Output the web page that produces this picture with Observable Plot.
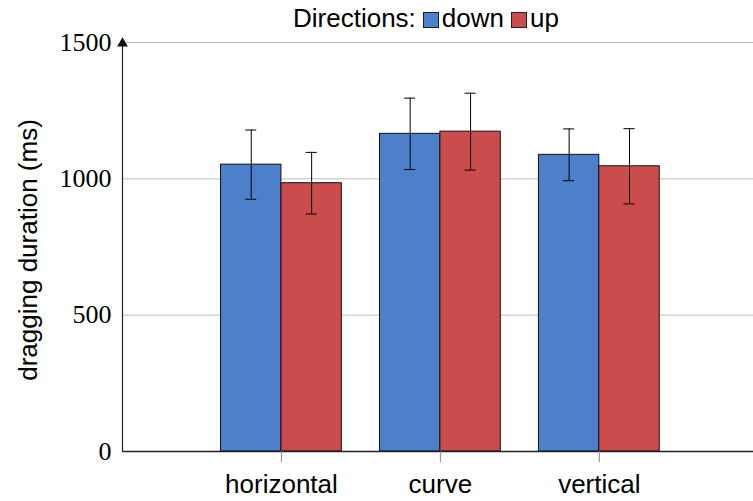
<!DOCTYPE html>
<html>
<head>
<meta charset="utf-8">
<script src="https://cdn.jsdelivr.net/npm/d3@7"></script>
<script src="https://cdn.jsdelivr.net/npm/@observablehq/plot@0.6"></script>
<style>
  body { margin: 0; background: white; }
  #wrap { position: relative; width: 753px; height: 501px; }
  #legend { height: 36px; position: relative; font-family: "Liberation Sans", Arial, sans-serif; font-size: 26px; color: #000; }
  #legend .inner { position: absolute; left: 293px; top: 3px; display: flex; align-items: center; white-space: nowrap; line-height: 30px; }
  #legend .sw { display: inline-block; width: 14px; height: 14px; border: 1px solid #222; margin: 4px 3px 0 7px; }
  svg { display: block; }
  g[aria-label="y-axis tick label"], g[aria-label="y-axis tick label"] text { font-family: "Liberation Serif", "DejaVu Serif", serif; }
</style>
</head>
<body>
<div id="wrap">
  <div id="legend"></div>
  <div id="chart"></div>
</div>
<script>
const categories = ["horizontal", "curve", "vertical"];
const directions = ["down", "up"];
const downMeans = [1052, 1165, 1088];
const upMeans = [984, 1173, 1046];
const downErr = [127, 131, 95];
const upErr = [113, 141, 138];
const yTicks = [0, 500, 1000, 1500];
const legendTitle = "Directions:";
const yLabel = "dragging duration (ms)";
const colors = ["#4d7fcb", "#cb4c4c"];

const barW = 0.38;
const capHalf = 0.035;
const rows = [];
categories.forEach((c, i) => {
  const center = i + 1;
  [[downMeans, downErr], [upMeans, upErr]].forEach(([m, e], j) => {
    const x1 = j === 0 ? center - barW : center;
    const x2 = j === 0 ? center : center + barW;
    rows.push({cat: c, dir: directions[j], value: m[i], lo: m[i] - e[i], hi: m[i] + e[i], x1, x2, cx: (x1 + x2) / 2});
  });
});

// legend
const leg = document.getElementById("legend");
const inner = document.createElement("div");
inner.className = "inner";
const t = document.createElement("span");
t.textContent = legendTitle;
inner.appendChild(t);
directions.forEach((d, j) => {
  const sw = document.createElement("span");
  sw.className = "sw";
  sw.style.background = colors[j];
  inner.appendChild(sw);
  const s = document.createElement("span");
  s.textContent = d;
  inner.appendChild(s);
});
leg.appendChild(inner);

const yMax = d3.max(yTicks);
const chart = Plot.plot({
  width: 753,
  height: 465,
  marginTop: 6,
  marginBottom: 50,
  marginLeft: 122,
  marginRight: 0,
  style: {fontFamily: "Liberation Sans, Arial, sans-serif", background: "white", overflow: "visible"},
  x: {type: "linear", domain: [0, 3.97], axis: null},
  y: {domain: [0, yMax], axis: null},
  color: {domain: directions, range: colors},
  marks: [
    Plot.gridY(yTicks.filter(d => d > 0), {stroke: "#bdbdbd", strokeOpacity: 1, strokeWidth: 1}),
    Plot.rectY(rows, {x1: "x1", x2: "x2", y1: 0, y2: "value", fill: "dir", stroke: "#111", strokeWidth: 1, inset: 0}),
    Plot.ruleX(rows, {x: "cx", y1: "lo", y2: "hi", stroke: "#000", strokeWidth: 1}),
    Plot.ruleY(rows, {y: "hi", x1: d => d.cx - capHalf, x2: d => d.cx + capHalf, stroke: "#000", strokeWidth: 1}),
    Plot.ruleY(rows, {y: "lo", x1: d => d.cx - capHalf, x2: d => d.cx + capHalf, stroke: "#000", strokeWidth: 1}),
    Plot.ruleY([0], {stroke: "#222", strokeWidth: 1.3}),
    Plot.ruleX([0], {y1: 0, y2: yMax, stroke: "#222", strokeWidth: 1.2}),
    Plot.dot([0], {x: 0, y: yMax, symbol: "triangle", r: 4, fill: "#111", stroke: "none", dy: 1}),
    Plot.axisY(yTicks, {tickSize: 0, tickPadding: 11, tickFormat: d => String(d), fontSize: 26, label: null, fill: "#000"}),
    Plot.axisX(categories.map((c, i) => i + 1), {tickFormat: i => categories[i - 1], tickSize: 11, tickPadding: 12, fontSize: 26, label: null, stroke: "#888", fill: "#000"}),
    Plot.text([yLabel], {frameAnchor: "left", textAnchor: "middle", rotate: -90, dx: -94, dy: 3, fontSize: 26, fill: "#000"})
  ]
});
document.getElementById("chart").appendChild(chart);
</script>
</body>
</html>
